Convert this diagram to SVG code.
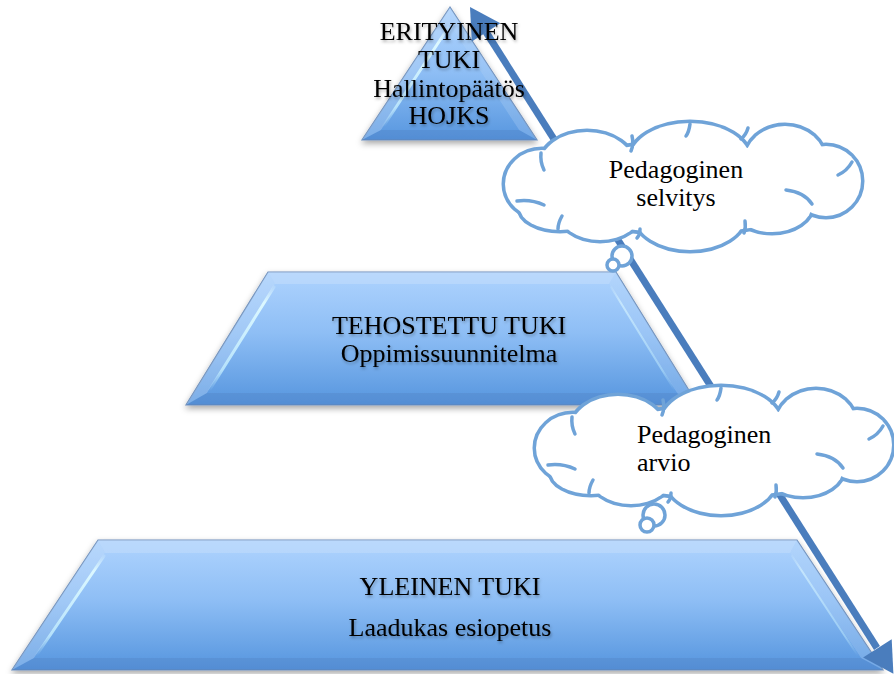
<svg xmlns="http://www.w3.org/2000/svg" width="894" height="674" viewBox="0 0 894 674">
<defs>
<style>
.t{font-family:"Liberation Serif","Times New Roman",serif;font-size:26px;fill:#000;}
.c{text-anchor:middle;}
.outer{fill:url(#gB);stroke:#6e90bd;stroke-width:1.2;}
.inner{fill:url(#gB);}
.ftop{fill:#ffffff;fill-opacity:0.22;}
.fleft{fill:#ffffff;fill-opacity:0.18;}
.fright{fill:#ffffff;fill-opacity:0.12;}
.fbot{fill:#1f4f94;fill-opacity:0.18;}
.hl{stroke:url(#gH);stroke-width:3;fill:none;stroke-linecap:round;}
.hl2{stroke:url(#gH);stroke-width:2;fill:none;stroke-linecap:round;opacity:0.6;}
.cl{stroke:#6fa3d8;fill:none;stroke-width:3.5;stroke-linecap:round;}
.arr{fill:#4a7dbd;}
</style>
<linearGradient id="gB" x1="0" y1="0" x2="0" y2="1">
<stop offset="0" stop-color="#a8cffc"/>
<stop offset="0.45" stop-color="#8ebef5"/>
<stop offset="1" stop-color="#5f9ce2"/>
</linearGradient>
<linearGradient id="gH" x1="0" y1="0" x2="0" y2="1">
<stop offset="0" stop-color="#e8fcff" stop-opacity="0.2"/>
<stop offset="0.15" stop-color="#dcf8ff" stop-opacity="1"/>
<stop offset="0.8" stop-color="#c6efff" stop-opacity="0.8"/>
<stop offset="1" stop-color="#c6efff" stop-opacity="0"/>
</linearGradient>
<filter id="sh" x="-10%" y="-10%" width="120%" height="130%">
<feDropShadow dx="0" dy="3" stdDeviation="3" flood-color="#000" flood-opacity="0.35"/>
</filter>
<filter id="ts" x="-10%" y="-20%" width="120%" height="150%">
<feDropShadow dx="1" dy="2" stdDeviation="1.5" flood-color="#000" flood-opacity="0.3"/>
</filter>
<g id="bumps">
<ellipse cx="542" cy="184" rx="37" ry="34"/>
<ellipse cx="587" cy="166" rx="47" ry="34"/>
<ellipse cx="690" cy="160" rx="60" ry="37"/>
<ellipse cx="785" cy="161" rx="40" ry="35"/>
<ellipse cx="826" cy="181" rx="35" ry="35"/>
<ellipse cx="772" cy="205" rx="40" ry="27"/>
<ellipse cx="690" cy="215" rx="55" ry="35"/>
<ellipse cx="600" cy="210" rx="42" ry="30"/>
<ellipse cx="560" cy="208" rx="40" ry="22"/>
<ellipse cx="685" cy="188" rx="140" ry="45"/>
</g>
<g id="arcs" class="cl">
<path d="M541,153 q-1,9 3,17"/>
<path d="M632,136 q2,8 -1,15"/>
<path d="M690,124 q-1,8 -4,12"/>
<path d="M748,128 q-2,7 -7,11"/>
<path d="M852,162 q-5,9 -14,13"/>
<path d="M786,190 q18,2 26,14"/>
<path d="M745,221 q1,7 -1,12"/>
<path d="M640,229 q0,6 -3,9"/>
<path d="M562,216 q-4,7 -4,13"/>
<path d="M517,201 q14,-2 27,4"/>
</g>
</defs>

<rect width="894" height="674" fill="#ffffff"/>

<g id="bottom-level">
<polygon class="outer" filter="url(#sh)" points="98,540 797,540 883,670 12,670"/>
<polygon class="ftop" points="98,540 797,540 790,553 105,553"/>
<polygon class="fleft" points="98,540 105,553 34,658 12,670"/>
<polygon class="fright" points="797,540 883,670 861,658 790,553"/>
<polygon class="fbot" points="12,670 883,670 861,658 34,658"/>
<polygon class="inner" points="105,553 790,553 861,658 34,658"/>
<line class="hl" x1="104" y1="556" x2="36" y2="656"/>
<line class="hl2" x1="792" y1="556" x2="858" y2="656"/>
<text class="t c" x="450" y="595" filter="url(#ts)">YLEINEN TUKI</text>
<text class="t c" x="450" y="636" filter="url(#ts)">Laadukas esiopetus</text>
</g>

<g id="middle-level">
<polygon class="outer" filter="url(#sh)" points="268,272 616,272 698,405 186,405"/>
<polygon class="ftop" points="268,272 616,272 609,284 275,284"/>
<polygon class="fleft" points="268,272 275,284 207,393 186,405"/>
<polygon class="fright" points="616,272 698,405 677,393 609,284"/>
<polygon class="fbot" points="186,405 698,405 677,393 207,393"/>
<polygon class="inner" points="275,284 609,284 677,393 207,393"/>
<line class="hl" x1="274" y1="287" x2="209" y2="391"/>
<line class="hl2" x1="611" y1="287" x2="675" y2="391"/>
</g>

<g id="top-level">
<polygon class="outer" filter="url(#sh)" points="450,7 537,140 362,140"/>
<polygon class="fleft" points="450,7 450,25 381,130 362,140"/>
<polygon class="fright" points="450,7 537,140 519,130 450,25"/>
<polygon class="fbot" points="362,140 537,140 519,130 381,130"/>
<polygon class="inner" points="450,25 519,130 381,130"/>
<line class="hl" x1="448" y1="28" x2="383" y2="127"/>
</g>

<g id="connectors">
<line x1="486" y1="32" x2="877" y2="648" stroke="#4a7dbd" stroke-width="7"/>
<polygon class="arr" points="470,7 500.4,23.2 471.8,41.4"/>
<polygon class="arr" points="893.4,673.8 891.7,639.3 863.1,657.5"/>
</g>

<g id="cloud-selvitys">
<use href="#bumps" fill="none" stroke="#6fa3d8" stroke-width="7"/>
<use href="#bumps" fill="#ffffff" stroke="none"/>
<use href="#arcs"/>
<circle cx="622" cy="256" r="10" fill="#ffffff" stroke="#6fa3d8" stroke-width="3.5"/>
<circle cx="613" cy="265" r="6" fill="#ffffff" stroke="#6fa3d8" stroke-width="3.5"/>
<text class="t c" x="676" y="178">Pedagoginen</text>
<text class="t c" x="676" y="206">selvitys</text>
</g>

<g id="cloud-arvio">
<g transform="translate(31,264)">
<use href="#bumps" fill="none" stroke="#6fa3d8" stroke-width="7"/>
<use href="#bumps" fill="#ffffff" stroke="none"/>
<use href="#arcs"/>
</g>
<circle cx="654" cy="515" r="11" fill="#ffffff" stroke="#6fa3d8" stroke-width="3.5"/>
<circle cx="647" cy="525" r="7" fill="#ffffff" stroke="#6fa3d8" stroke-width="3.5"/>
<text class="t" x="637" y="443">Pedagoginen</text>
<text class="t" x="637" y="471">arvio</text>
</g>

<g id="top-text">
<text class="t c" x="449" y="40" filter="url(#ts)">ERITYINEN</text>
<text class="t c" x="449" y="68" filter="url(#ts)">TUKI</text>
<text class="t c" x="449" y="97" filter="url(#ts)">Hallintopäätös</text>
<text class="t c" x="449" y="124" filter="url(#ts)">HOJKS</text>
</g>

<g id="middle-text">
<text class="t c" x="449" y="334" filter="url(#ts)">TEHOSTETTU TUKI</text>
<text class="t c" x="449" y="362" filter="url(#ts)">Oppimissuunnitelma</text>
</g>
</svg>
